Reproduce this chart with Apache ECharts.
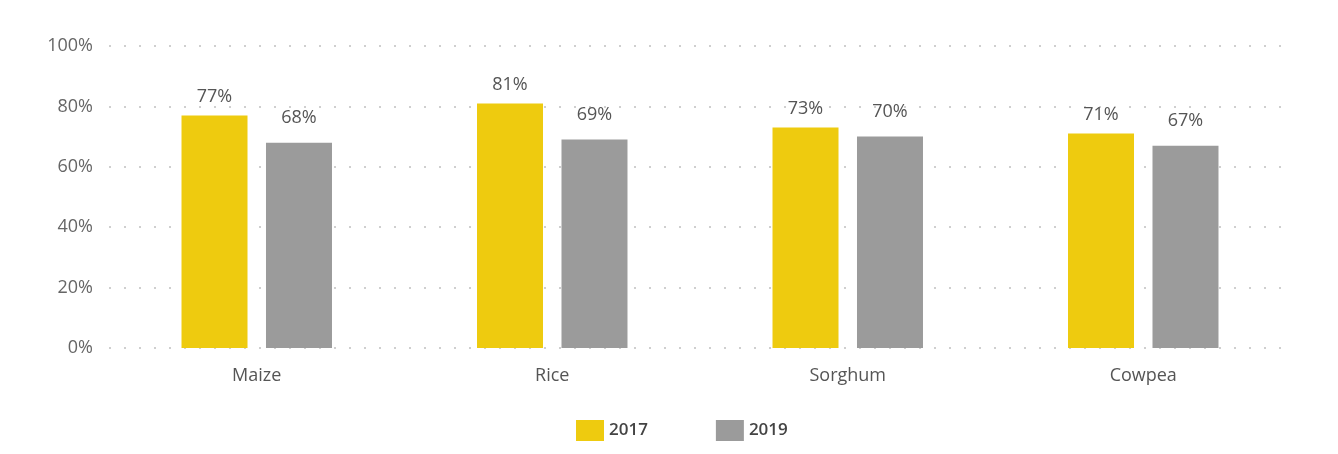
<!DOCTYPE html>
<html><head><meta charset="utf-8">
<script src="https://cdn.jsdelivr.net/npm/echarts@6/dist/echarts.min.js"></script>
<style>html,body{margin:0;padding:0;background:#fff}#c{width:1338px;height:454px}</style>
</head><body><div id="c"></div>
<script>
const categories = ["Maize", "Rice", "Sorghum", "Cowpea"];
const series2017 = [77, 81, 73, 71];
const series2019 = [68, 69, 70, 67];
const yTicks = [0, 20, 40, 60, 80, 100];

const chart = echarts.init(document.getElementById('c'));
const font = '"Open Sans", Lato, sans-serif';
chart.setOption({
  animation: false,
  textStyle: { fontFamily: font },
  grid: { left: 109, right: 47, top: 46, bottom: 106 },
  legend: {
    bottom: 8, left: 571, itemWidth: 28, itemHeight: 21, itemGap: 68,
    icon: 'rect',
    textStyle: { fontSize: 17, color: '#444', fontWeight: 600, fontFamily: font },
    data: ['2017', '2019']
  },
  xAxis: {
    type: 'category', data: categories,
    axisLine: { show: false }, axisTick: { show: false },
    axisLabel: { fontSize: 18, color: '#555', margin: 19 }
  },
  yAxis: {
    type: 'value', min: yTicks[0], max: yTicks[yTicks.length - 1], interval: 20,
    axisLine: { show: false }, axisTick: { show: false },
    axisLabel: { fontSize: 18, color: '#666', margin: 16, formatter: '{value}%' },
    splitLine: { lineStyle: { color: '#cfcfcf', width: 2, type: [2, 13] } }
  },
  series: [
    { name: '2017', type: 'bar', data: series2017, barWidth: 66, barGap: '28%',
      itemStyle: { color: '#EECB0F' },
      label: { show: true, position: 'top', distance: 10, fontSize: 18, color: '#555', formatter: '{c}%' } },
    { name: '2019', type: 'bar', data: series2019, barWidth: 66,
      itemStyle: { color: '#9B9B9B' },
      label: { show: true, position: 'top', distance: 16, fontSize: 18, color: '#555', formatter: '{c}%' } }
  ]
});
</script></body></html>
